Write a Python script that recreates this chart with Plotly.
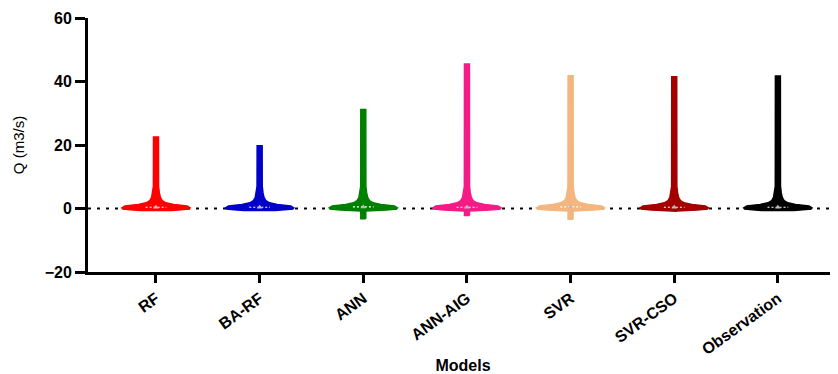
import numpy as np
import plotly.graph_objects as go

# ---- data ----
models = ["RF", "BA-RF", "ANN", "ANN-AIG", "SVR", "SVR-CSO", "Observation"]
colors = ["#FF0000", "#0000C8", "#008000", "#F51B86", "#F4B57E", "#A30000", "#000000"]
q_max = [22.5, 19.8, 31.2, 45.5, 41.8, 41.5, 41.7]
q_min = [-0.6, -0.6, -3.2, -2.2, -3.4, -0.9, -0.6]
q_median = [0.4, 0.4, 0.5, 0.4, 0.5, 0.4, 0.4]

# estimated shared density profile (y level -> violin half-width, category units)
profile_y = [-0.8, -0.5, -0.2, 0.2, 0.8, 1.3, 1.8, 2.5, 3.5, 5.0, 7.0]
profile_w = [0.024, 0.22, 0.32, 0.33, 0.30, 0.17, 0.095, 0.06, 0.042, 0.032, 0.025]
spike_w = 0.024

y_tickvals = [-20, 0, 20, 40, 60]

fig = go.Figure()

for i, (name, col, mx, mn) in enumerate(zip(models, colors, q_max, q_min)):
    levels = [mn] + [y for y in profile_y if mn < y < mx] + [mx]
    widths = [float(np.interp(y, profile_y, profile_w)) for y in levels]
    widths[-1] = spike_w
    xs = [i + w for w in widths] + [i - w for w in widths[::-1]]
    ys = levels + levels[::-1]
    fig.add_trace(go.Scatter(
        x=xs + [xs[0]], y=ys + [ys[0]], mode="lines", fill="toself",
        fillcolor=col, line=dict(color=col, width=1.5),
        name=name, showlegend=False, hoverinfo="skip"))
    # median marker
    fig.add_trace(go.Scatter(
        x=[i - 0.1, i + 0.1], y=[q_median[i], q_median[i]], mode="lines",
        line=dict(color="white", width=1.2, dash="2px,2px"),
        showlegend=False, hoverinfo="skip"))
    fig.add_trace(go.Scatter(
        x=[i], y=[q_median[i]], mode="markers",
        marker=dict(symbol="triangle-up", size=5, color="#BBBBBB"),
        showlegend=False, hoverinfo="skip"))

# dotted zero line
fig.add_shape(type="line", xref="paper", yref="y", x0=0, x1=1, y0=0, y1=0,
              line=dict(color="black", width=2, dash="3px,6px"), layer="below")

font_fam = "Liberation Sans, Arial, sans-serif"
fig.update_layout(
    width=830, height=366, autosize=False,
    margin=dict(l=80, r=0, t=10, b=102),
    plot_bgcolor="white", paper_bgcolor="white",
    font=dict(family=font_fam, color="black"),
    xaxis=dict(
        range=[-0.656, 6.58], tickmode="array", tickvals=list(range(len(models))),
        ticktext=models, tickangle=-36, automargin=False,
        tickfont=dict(size=16, weight="bold", family=font_fam),
        showline=True, linecolor="black", linewidth=3,
        ticks="outside", ticklen=8, tickwidth=3, tickcolor="black",
        showgrid=False, zeroline=False,
        title=dict(text="Models", font=dict(size=16, weight="bold", family=font_fam), standoff=6),
    ),
    yaxis=dict(
        range=[-20, 60], tickmode="array", tickvals=y_tickvals, automargin=False,
        tickfont=dict(size=16, weight="bold", family=font_fam),
        showline=True, linecolor="black", linewidth=3,
        ticks="outside", ticklen=10, tickwidth=3, tickcolor="black",
        showgrid=False, zeroline=False,
        title=dict(text="Q (m3/s)", font=dict(size=15, family=font_fam), standoff=17),
    ),
)

fig.write_html("out.html")
